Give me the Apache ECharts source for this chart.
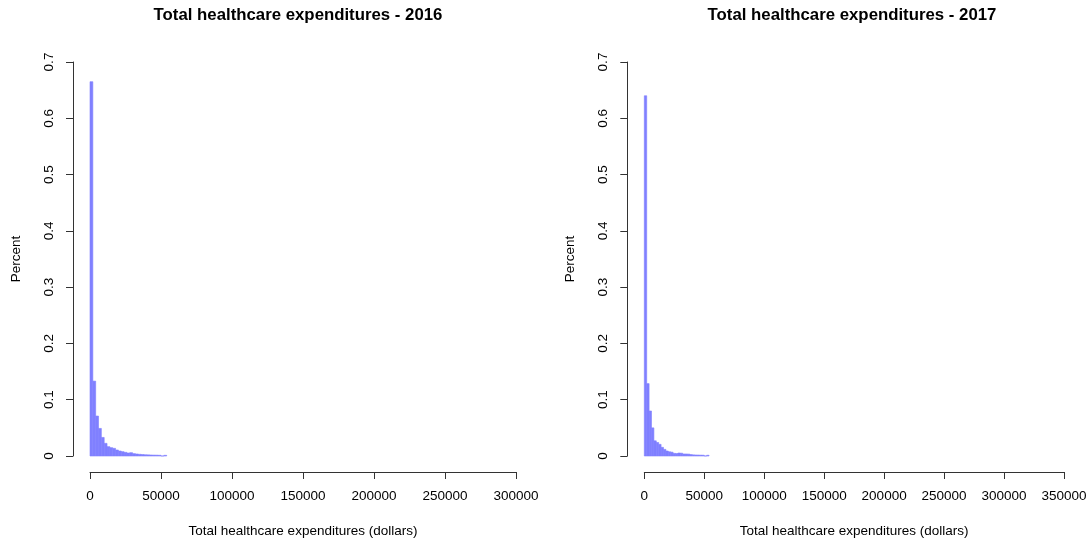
<!DOCTYPE html>
<html>
<head>
<meta charset="utf-8">
<script src="https://cdn.jsdelivr.net/npm/echarts@6/dist/echarts.min.js"></script>
<style>
  html, body { margin: 0; padding: 0; background: #fff; }
  #chart { width: 1091px; height: 541px; }
</style>
</head>
<body>
<div id="chart"></div>
<script>
// Histogram bin width (dollars) and share of people in each bin, starting at 0.
const BIN_WIDTH = 2000;

const share2016 = [0.665, 0.133, 0.071, 0.049, 0.033, 0.0225, 0.0166, 0.0148, 0.0136,
  0.0107, 0.0089, 0.0077, 0.0065, 0.0053, 0.0059, 0.0042, 0.0036, 0.0030, 0.0026,
  0.0022, 0.0020, 0.0018, 0.0016, 0.0015, 0.0013, 0, 0.0012];

const share2017 = [0.640, 0.1286, 0.080, 0.050, 0.027, 0.024, 0.0207, 0.0154, 0.0118,
  0.0089, 0.0075, 0.0068, 0.0047, 0.0044, 0.0053, 0.0050, 0.0036, 0.0036, 0.0034,
  0.0025, 0.0020, 0.0018, 0.0017, 0.0015, 0.0014, 0, 0.0013];

const xMax2016 = 300000;
const xMax2017 = 350000;
const xStep = 50000;
const yMax = 0.7;
const yStep = 0.1;

const titles = ['Total healthcare expenditures - 2016', 'Total healthcare expenditures - 2017'];
const xTitle = 'Total healthcare expenditures (dollars)';
const yTitle = 'Percent';

const FONT = 'Liberation Sans, Arial, sans-serif';
const AXIS_COLOR = '#333';
const BAR_COLOR = '#8080ff';

function binsOf(shares) {
  return shares.map((s, i) => [i * BIN_WIDTH, (i + 1) * BIN_WIDTH, s]);
}

function renderBin(params, api) {
  const p0 = api.coord([api.value(0), 0]);
  const p1 = api.coord([api.value(1), api.value(2)]);
  return {
    type: 'rect',
    shape: { x: p0[0], y: p1[1], width: p1[0] - p0[0], height: p0[1] - p1[1] },
    style: { fill: BAR_COLOR, stroke: BAR_COLOR, lineWidth: 0.6 }
  };
}

function xAxisFor(gridIndex, max) {
  return {
    type: 'value', gridIndex, min: 0, max, interval: xStep, offset: 16,
    splitLine: { show: false },
    axisLine: { show: true, onZero: false, lineStyle: { color: AXIS_COLOR, width: 1 } },
    axisTick: { show: true, length: 7, lineStyle: { color: AXIS_COLOR } },
    axisLabel: { color: '#000', fontFamily: FONT, fontSize: 13.5, margin: 17,
      formatter: v => String(v), showMinLabel: true, showMaxLabel: true, hideOverlap: false },
    name: xTitle, nameLocation: 'middle', nameGap: 52,
    nameTextStyle: { color: '#000', fontFamily: FONT, fontSize: 13.5 }
  };
}

function yAxisFor(gridIndex) {
  return {
    type: 'value', gridIndex, min: 0, max: yMax, interval: yStep, offset: 17,
    splitLine: { show: false },
    axisLine: { show: true, onZero: false, lineStyle: { color: AXIS_COLOR, width: 1 } },
    axisTick: { show: true, length: 7, lineStyle: { color: AXIS_COLOR } },
    axisLabel: { color: '#000', fontFamily: FONT, fontSize: 13.5, margin: 17, rotate: 90,
      formatter: v => String(Math.round(v * 10) / 10) },
    name: yTitle, nameLocation: 'middle', nameGap: 50, nameRotate: 90,
    nameTextStyle: { color: '#000', fontFamily: FONT, fontSize: 13.5 }
  };
}

const chart = echarts.init(document.getElementById('chart'), null, { renderer: 'canvas' });
chart.setOption({
  animation: false,
  backgroundColor: '#fff',
  title: [
    { text: titles[0], left: 298, top: 7, textAlign: 'center', padding: 0,
      textStyle: { fontFamily: FONT, fontSize: 16.8, fontWeight: 'bold', color: '#000' } },
    { text: titles[1], left: 852, top: 7, textAlign: 'center', padding: 0,
      textStyle: { fontFamily: FONT, fontSize: 16.8, fontWeight: 'bold', color: '#000' } }
  ],
  grid: [
    { left: 90, width: 426, top: 62, height: 394, containLabel: false, outerBoundsMode: 'none' },
    { left: 644.3, width: 419.7, top: 62, height: 394, containLabel: false, outerBoundsMode: 'none' }
  ],
  xAxis: [xAxisFor(0, xMax2016), xAxisFor(1, xMax2017)],
  yAxis: [yAxisFor(0), yAxisFor(1)],
  series: [
    { type: 'custom', xAxisIndex: 0, yAxisIndex: 0, renderItem: renderBin,
      encode: { x: [0, 1], y: 2 }, data: binsOf(share2016), clip: false },
    { type: 'custom', xAxisIndex: 1, yAxisIndex: 1, renderItem: renderBin,
      encode: { x: [0, 1], y: 2 }, data: binsOf(share2017), clip: false }
  ]
});
</script>
</body>
</html>
